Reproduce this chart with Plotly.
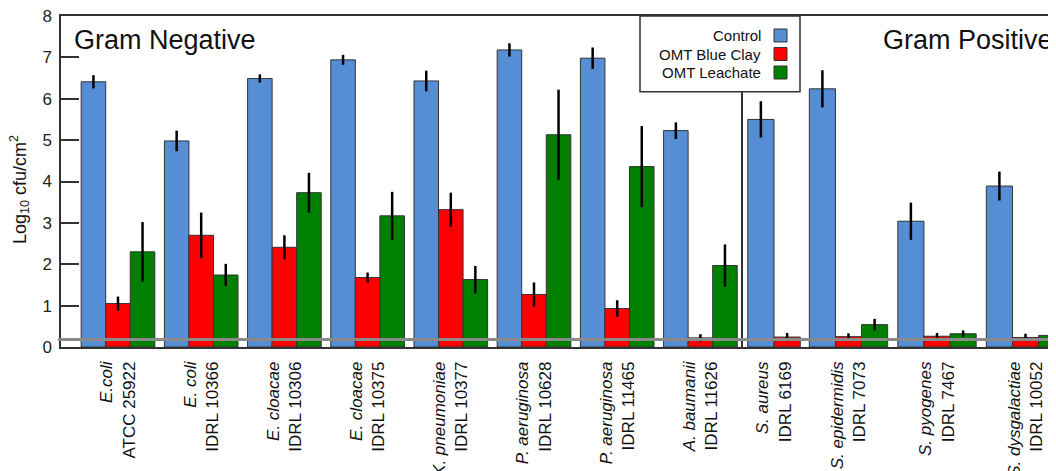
import plotly.graph_objects as go

# ---------------- data ----------------
species = ["E.coli", "E. coli", "E. cloacae", "E. cloacae", "K. pneumoniae",
           "P. aeruginosa", "P. aeruginosa", "A. baumanii",
           "S. aureus", "S. epidermidis", "S. pyogenes", "S. dysgalactiae"]
strains = ["ATCC 25922", "IDRL 10366", "IDRL 10306", "IDRL 10375", "IDRL 10377",
           "IDRL 10628", "IDRL 11465", "IDRL 11626",
           "IDRL 6169", "IDRL 7073", "IDRL 7467", "IDRL 10052"]

series_names = ["Control", "OMT Blue Clay", "OMT Leachate"]
control = [6.41, 4.98, 6.49, 6.94, 6.43, 7.18, 6.98, 5.23, 5.50, 6.24, 3.04, 3.89]
control_err = [0.16, 0.25, 0.10, 0.12, 0.25, 0.16, 0.26, 0.20, 0.44, 0.45, 0.45, 0.35]
blue_clay = [1.05, 2.70, 2.41, 1.68, 3.32, 1.27, 0.93, 0.22, 0.24, 0.25, 0.26, 0.23]
blue_clay_err = [0.17, 0.55, 0.29, 0.12, 0.41, 0.29, 0.20, 0.09, 0.10, 0.08, 0.08, 0.09]
leachate = [2.30, 1.74, 3.73, 3.17, 1.63, 5.13, 4.36, 1.97, None, 0.54, 0.32, 0.28]
leachate_err = [0.72, 0.27, 0.48, 0.58, 0.33, 1.09, 0.98, 0.51, None, 0.14, 0.08, 0.09]

detection_limit = 0.18
y_ticks = [0, 1, 2, 3, 4, 5, 6, 7, 8]
panel_titles = ["Gram Negative", "Gram Positive"]

# ---------------- styling ----------------
colors = ["#568ED6", "#FF0000", "#008000"]
FONT = "Liberation Sans, Arial, Helvetica, sans-serif"
LINE = "#333333"

labels = [f"<i>{s}</i><br>{t}" for s, t in zip(species, strains)]
values = [control, blue_clay, leachate]
errors = [control_err, blue_clay_err, leachate_err]

# panels: gram negative (0-7), S. aureus (8, no leachate), gram positive rest (9-11)
panels = [("x", "y", list(range(0, 8)), [0, 1, 2]),
          ("x2", "y2", [8], [0, 1]),
          ("x3", "y3", list(range(9, 12)), [0, 1, 2])]

fig = go.Figure()
for xa, ya, idx, series in panels:
    for s in series:
        fig.add_trace(go.Bar(
            x=[labels[i] for i in idx],
            y=[values[s][i] for i in idx],
            error_y=dict(type="data", array=[errors[s][i] for i in idx],
                         visible=True, color="black", thickness=2.5, width=0),
            name=series_names[s],
            marker=dict(color=colors[s], line=dict(color=LINE, width=1)),
            xaxis=xa, yaxis=ya, showlegend=False,
        ))

# page body adds an 8px offset; layout numbers below are given in screen pixels
OFF = 8
W, H = 1056, 471
S_LEFT, S_TOP, S_BOTTOM = 61, 16, 347
ML = S_LEFT - OFF
MT = S_TOP - OFF
MB = H - (S_BOTTOM - OFF)
PW = W - ML
PH = S_BOTTOM - S_TOP


def px_x(p):
    return (p - S_LEFT) / PW


def px_y(p):
    return (S_BOTTOM - p) / PH


xcommon = dict(type="category", showline=True, mirror=True, linecolor=LINE,
               linewidth=1.5, ticks="outside", ticklen=6, tickcolor="rgba(0,0,0,0)",
               tickangle=-90, tickfont=dict(family=FONT, size=17, color="#111"),
               showgrid=False, zeroline=False, automargin=False)
ycommon = dict(range=[0, 8], showgrid=False, zeroline=False, automargin=False)

fig.update_layout(
    width=W, height=H,
    margin=dict(l=ML, r=0, t=MT, b=MB),
    paper_bgcolor="white", plot_bgcolor="white",
    barmode="group", bargap=0.115, bargroupgap=0,
    showlegend=False,
    font=dict(family=FONT, color="#111"),
    xaxis=dict(domain=[0, px_x(743)], range=[-0.685, 7.512], **xcommon),
    xaxis2=dict(domain=[px_x(743), px_x(805)], range=[-0.522, 0.522], **xcommon),
    xaxis3=dict(domain=[px_x(805), 1], range=[-0.4915, 2.435], **xcommon),
    yaxis=dict(tickvals=y_ticks, ticks="inside", ticklen=18, tickwidth=1.5,
               tickcolor=LINE, showline=True, linecolor=LINE, linewidth=1.5,
               tickfont=dict(family=FONT, size=17, color="#222"),
               ticklabelstandoff=4, ticklabeloverflow="allow", **ycommon),
    yaxis2=dict(anchor="x2", showticklabels=False, ticks="", showline=True,
                linecolor=LINE, linewidth=1.5, **ycommon),
    yaxis3=dict(anchor="x3", showticklabels=False, ticks="", showline=False, **ycommon),
)

shapes = [
    # detection-limit baseline
    dict(type="line", xref="paper", yref="y", x0=px_x(58), x1=1,
         y0=detection_limit, y1=detection_limit,
         line=dict(color="#8A8A8A", width=3), layer="above"),
    # legend box
    dict(type="rect", xref="paper", yref="paper", x0=px_x(640), x1=px_x(800),
         y0=px_y(91.7), y1=1, fillcolor="white", line=dict(color=LINE, width=1.5),
         layer="above"),
]
annotations = [
    dict(text="Log<sub>10</sub> cfu/cm<sup>2</sup>", xref="paper", yref="paper",
         x=px_x(19), y=px_y(190), textangle=-90, showarrow=False,
         font=dict(family=FONT, size=18, color="#111"), xanchor="center", yanchor="middle"),
    dict(text=panel_titles[0], xref="paper", yref="paper", x=px_x(72), y=px_y(40),
         xanchor="left", yanchor="middle", showarrow=False,
         font=dict(family=FONT, size=27, color="#111")),
    dict(text=panel_titles[1], xref="paper", yref="paper", x=px_x(881), y=px_y(40),
         xanchor="left", yanchor="middle", showarrow=False,
         font=dict(family=FONT, size=27, color="#111")),
]
leg_rows = [35.5, 54.0, 72.5]
for name, col, cy in zip(series_names, colors, leg_rows):
    annotations.append(dict(text=name, xref="paper", yref="paper", x=px_x(763),
                            y=px_y(cy), xanchor="right", yanchor="middle",
                            showarrow=False, font=dict(family=FONT, size=15, color="#111")))
    shapes.append(dict(type="rect", xref="paper", yref="paper",
                       x0=px_x(774), x1=px_x(787), y0=px_y(cy + 6.5), y1=px_y(cy - 6.5),
                       fillcolor=col, line=dict(color=LINE, width=1), layer="above"))

fig.update_layout(shapes=shapes, annotations=annotations)
fig.write_html("out.html")
